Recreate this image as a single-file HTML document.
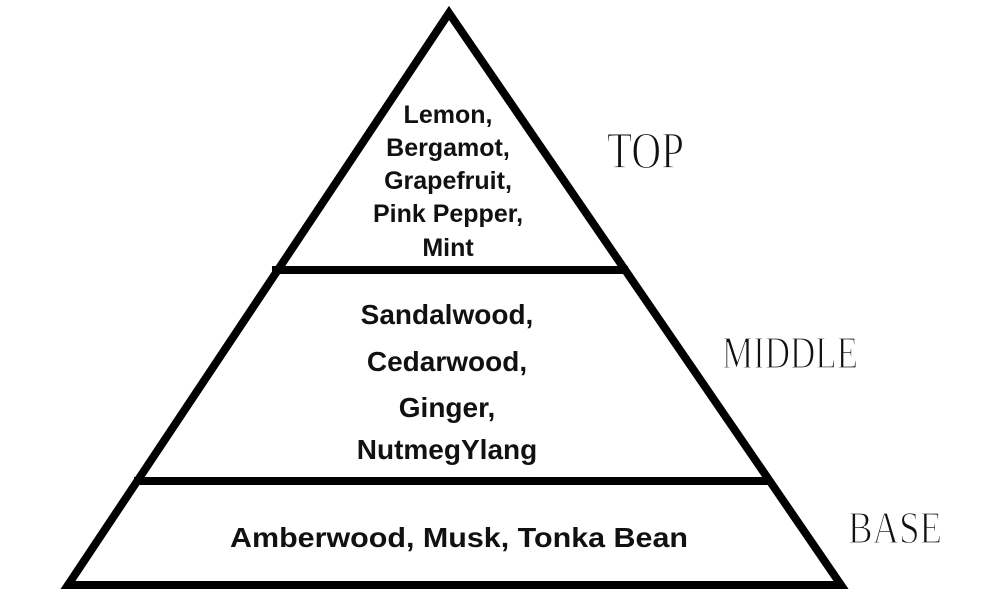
<!DOCTYPE html>
<html><head><meta charset="utf-8"><style>
html,body{margin:0;padding:0;background:#fff;}
svg{display:block;}
.t{font-family:"Liberation Sans",sans-serif;font-weight:bold;fill:#111;text-anchor:middle;}
.l{font-family:"Liberation Serif",serif;fill:#111;stroke:#fff;stroke-width:1.3;}
</style></head><body>
<svg width="1000" height="598" viewBox="0 0 1000 598">
<polygon points="449,13 68,585 841,585" fill="#fff" stroke="#000" stroke-width="8" stroke-linejoin="miter"/>
<line x1="272" y1="270" x2="628" y2="270" stroke="#000" stroke-width="8"/>
<line x1="134" y1="481" x2="770" y2="481" stroke="#000" stroke-width="8"/>
<g class="t" font-size="25">
<text x="448" y="123">Lemon,</text>
<text x="448" y="156">Bergamot,</text>
<text x="448" y="189">Grapefruit,</text>
<text x="448" y="222">Pink Pepper,</text>
<text x="448" y="256">Mint</text>
</g>
<g class="t" font-size="28">
<text x="447" y="324">Sandalwood,</text>
<text x="447" y="371">Cedarwood,</text>
<text x="447" y="417">Ginger,</text>
<text x="447" y="459">NutmegYlang</text>
<text x="459" y="547" textLength="458" lengthAdjust="spacingAndGlyphs">Amberwood, Musk, Tonka Bean</text>
</g>
<text class="l" x="607" y="168" font-size="52" textLength="77" lengthAdjust="spacingAndGlyphs">TOP</text>
<text class="l" x="722" y="368" font-size="46" textLength="136" lengthAdjust="spacingAndGlyphs">MIDDLE</text>
<text class="l" x="848" y="543" font-size="46" textLength="94" lengthAdjust="spacingAndGlyphs">BASE</text>
</svg>
</body></html>
